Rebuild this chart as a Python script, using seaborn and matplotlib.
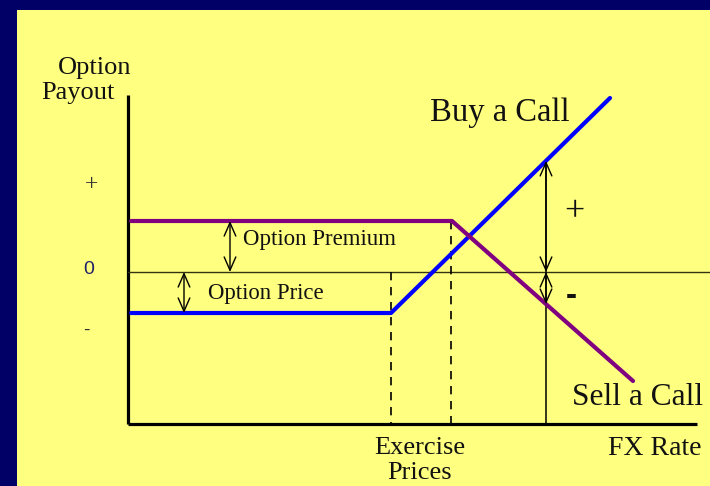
import numpy as np
import pandas as pd
import matplotlib
matplotlib.use("Agg")
import matplotlib.pyplot as plt
from matplotlib.patches import Rectangle
import seaborn as sns

# payoff diagram, x = FX rate (0 at the payout axis), y = payout (0 = break-even line)
buy_fx = [0.3, 26.3, 48.2]
buy_payout = [-4.1, -4.1, 17.4]
sell_fx = [0.3, 32.4, 50.5]
sell_payout = [5.1, 5.1, -10.9]
strikes = [26.3, 32.3]
premium = 5.1
price = -4.1
check_fx = 41.8
y_ticks = ["+", "0", "-"]
y_tick_vals = [8.7, 0.2, -5.8]

df = pd.concat([
    pd.DataFrame({"fx": buy_fx, "payout": buy_payout, "side": "Buy a Call"}),
    pd.DataFrame({"fx": sell_fx, "payout": sell_payout, "side": "Sell a Call"}),
])

sns.set_theme(style="white")
plt.rcParams["font.family"] = ["Liberation Serif", "DejaVu Serif"]

fig = plt.figure(figsize=(7.1, 4.86), dpi=100)
fig.patch.set_facecolor("#000066")
fig.patches.append(Rectangle((17 / 710, 0), 1, 476 / 486, transform=fig.transFigure,
                             facecolor="#FFFF80", edgecolor="none", zorder=-1))
ax = fig.add_axes([0, 0, 1, 1])
ax.set_facecolor("none")
ax.axis("off")
ax.set_xlim(-12.8, 58.2)
ax.set_ylim(-21.4, 27.2)

bottom = -15.2
# axes
ax.plot([0, 0], [bottom, 17.7], color="black", lw=2.3, solid_capstyle="butt")
ax.plot([0, 56.9], [bottom, bottom], color="black", lw=2.3, solid_capstyle="butt")
ax.plot([0, 58.2], [0, 0], color="#333311", lw=1)

# strike markers
ax.plot([strikes[0], strikes[0]], [0, bottom], color="black", lw=1.2, ls=(0, (5, 4)))
ax.plot([strikes[1], strikes[1]], [premium, bottom], color="black", lw=1.2, ls=(0, (5, 4)))

sns.lineplot(data=df, x="fx", y="payout", hue="side", palette=["#0000FF", "#800080"],
             lw=3, legend=False, ax=ax, zorder=3)

buy_at = np.interp(check_fx, buy_fx, buy_payout)
sell_at = np.interp(check_fx, sell_fx, sell_payout)
ax.plot([check_fx, check_fx], [buy_at, bottom], color="black", lw=1.1)

arrow = dict(arrowstyle="<->,head_length=0.8,head_width=0.35", color="black", lw=1,
             shrinkA=0, shrinkB=0)
ax.annotate("", xy=(10.2, premium), xytext=(10.2, 0), arrowprops=arrow)
ax.annotate("", xy=(5.6, 0), xytext=(5.6, price), arrowprops=arrow)
ax.annotate("", xy=(check_fx, buy_at), xytext=(check_fx, 0), arrowprops=arrow)
ax.annotate("", xy=(check_fx, 0), xytext=(check_fx, sell_at), arrowprops=arrow)

# labels
ax.text(-3.3, 20.4, "Option", fontsize=19, ha="center", va="center", color="#111")
ax.text(-5.0, 17.9, "Payout", fontsize=19, ha="center", va="center", color="#111")
ax.text(-3.6, y_tick_vals[0], y_ticks[0], fontsize=17, ha="center", va="center", color="#333")
ax.text(-3.9, y_tick_vals[1], y_ticks[1], fontsize=14, ha="center", va="center",
        color="#222266", family="Liberation Sans")
ax.text(-4.2, y_tick_vals[2], y_ticks[2], fontsize=14, ha="center", va="center",
        color="#333", family="Liberation Sans")

ax.text(30.2, 15.9, "Buy a Call", fontsize=23.5, ha="left", va="center", color="#111")
ax.text(44.4, -12.5, "Sell a Call", fontsize=22.6, ha="left", va="center", color="#111")
ax.text(11.5, 3.3, "Option Premium", fontsize=16.5, ha="left", va="center", color="#111")
ax.text(8.0, -2.1, "Option Price", fontsize=16.4, ha="left", va="center", color="#111")
ax.text(44.6, 5.9, "+", fontsize=26, ha="center", va="center", color="#111")
ax.text(44.3, -2.4, "-", fontsize=24, ha="center", va="center", color="#111",
        family="Liberation Sans", fontweight="bold")
ax.text(29.2, -17.6, "Exercise", fontsize=19, ha="center", va="center", color="#111")
ax.text(29.2, -20.1, "Prices", fontsize=19, ha="center", va="center", color="#111")
ax.text(48.0, -17.6, "FX Rate", fontsize=20, ha="left", va="center", color="#111")

fig.savefig("out.png", dpi=100, facecolor=fig.get_facecolor())
